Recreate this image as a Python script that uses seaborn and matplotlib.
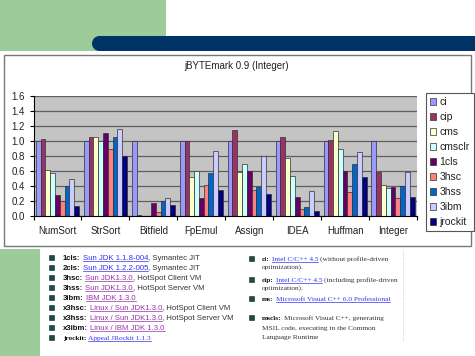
import matplotlib
matplotlib.use("Agg")
import matplotlib.pyplot as plt
from matplotlib.patches import Rectangle, Ellipse
from matplotlib.lines import Line2D
import seaborn as sns
import pandas as pd

# ---------------- data ----------------
categories = ["NumSort", "StrSort", "Bitfield", "FpEmul", "Assign", "IDEA", "Huffman", "Integer"]
series = ["ci", "cip", "cms", "cmsclr", "1cls", "3hsc", "3hss", "3ibm", "jrockit"]
ci      = [1.00, 1.00, 1.00, 1.00, 1.00, 1.00, 1.00, 1.00]
cip     = [1.03, 1.05, 0.01, 1.00, 1.15, 1.05, 1.02, 0.585]
cms     = [0.61, 1.05, 0.004, 0.52, 0.59, 0.78, 1.14, 0.42]
cmsclr  = [0.57, 1.00, 0.004, 0.60, 0.69, 0.53, 0.89, 0.38]
cls1    = [0.28, 1.11, 0.17, 0.24, 0.60, 0.25, 0.60, 0.39]
hsc3    = [0.195, 0.89, 0.06, 0.42, 0.35, 0.10, 0.32, 0.235]
hss3    = [0.40, 1.05, 0.20, 0.58, 0.39, 0.12, 0.70, 0.40]
ibm3    = [0.50, 1.16, 0.24, 0.87, 0.80, 0.33, 0.86, 0.59]
jrockit = [0.14, 0.80, 0.15, 0.35, 0.29, 0.07, 0.52, 0.26]
values = [ci, cip, cms, cmsclr, cls1, hsc3, hss3, ibm3, jrockit]
yticks = [0.0, 0.2, 0.4, 0.6, 0.8, 1.0, 1.2, 1.4, 1.6]
title = "jBYTEmark 0.9 (Integer)"

left_notes = [
    [("1cls:", "b"), ("Sun JDK 1.1.8-004", "lb"), (", Symantec JIT", "p")],
    [("2cls:", "b"), ("Sun JDK 1.2.2-005", "lb"), (", Symantec JIT", "p")],
    [("3hsc:", "b"), ("Sun JDK1.3.0", "lv"), (", HotSpot Client VM", "p")],
    [("3hss:", "b"), ("Sun JDK1.3.0", "lv"), (", HotSpot Server VM", "p")],
    [("3ibm:", "b"), ("IBM JDK 1.3.0", "lv")],
    [("x3hsc:", "b"), ("Linux / Sun JDK1.3.0", "lv"), (", HotSpot Client VM", "p")],
    [("x3hss:", "b"), ("Linux / Sun JDK1.3.0", "lv"), (", HotSpot Server VM", "p")],
    [("x3ibm:", "b"), ("Linux / IBM JDK 1.3.0", "lv")],
    [("jrockit:", "bs"), ("Appeal JRockit 1.1.3", "lbs")],
]
right_notes = [
    (258.3, True, [("ci:", "b"), ("Intel C/C++ 4.5", "lb"), (" (without profile-driven", "p")]),
    (266.5, False, [("optimization).", "p")]),
    (279.0, True, [("cip:", "b"), ("Intel C/C++ 4.5", "lb"), (" (including profile-driven", "p")]),
    (287.3, False, [("optimization).", "p")]),
    (298.3, True, [("ms:", "b"), ("Microsoft Visual C++ 6.0 Professional", "lb")]),
    (317.7, True, [("mscls:", "b"), (" Microsoft Visual C++, generating", "p")]),
    (327.3, False, [("MSIL code, executing in the Common", "p")]),
    (336.7, False, [("Language Runtime", "p")]),
]

colors = ["#9999FF", "#993366", "#FFFFCC", "#CCFFFF", "#660066",
          "#FF8080", "#0066CC", "#CCCCFF", "#000080"]

W, H = 475, 356
fig = plt.figure(figsize=(W / 100, H / 100), dpi=100)
fig.patch.set_facecolor("white")


def fx(x):
    return x / W


def fy(y):
    return 1 - y / H


# ---------------- slide decoration ----------------
green = "#9CCC9A"
fig.add_artist(Rectangle((0, fy(51)), fx(166), 51 / H, transform=fig.transFigure,
                         facecolor=green, edgecolor="none", zorder=0))
fig.add_artist(Rectangle((0, 0), fx(40), (H - 249) / H, transform=fig.transFigure,
                         facecolor=green, edgecolor="none", zorder=0))
navy = "#003366"
fig.add_artist(Rectangle((fx(99.5), fy(51)), 1 - fx(99.5), 15 / H, transform=fig.transFigure,
                         facecolor=navy, edgecolor="none", zorder=1))
fig.add_artist(Ellipse((fx(99.5), fy(43.5)), 15 / W, 15 / H, transform=fig.transFigure,
                       facecolor=navy, edgecolor="none", zorder=1))
# chart frame
fig.add_artist(Rectangle((fx(4), fy(246)), fx(467), (246 - 54.5) / H, transform=fig.transFigure,
                         facecolor="white", edgecolor="#777777", linewidth=1.0, zorder=1))

# ---------------- chart ----------------
rows = []
for s, vals in zip(series, values):
    for c, v in zip(categories, vals):
        rows.append({"benchmark": c, "compiler": s, "score": v})
df = pd.DataFrame(rows)

ax = fig.add_axes([fx(33.5), fy(216), fx(417 - 33.5), (216 - 96) / H])
ax.set_zorder(3)
sns.barplot(data=df, x="benchmark", y="score", hue="compiler", order=categories,
            hue_order=series, palette=colors, width=0.9, edgecolor="#303030",
            linewidth=0.5, saturation=1, ax=ax, errorbar=None)
ax.set_facecolor("#C4C4C4")
ax.set_ylim(0, 1.6)
ax.set_xlim(-0.5, 7.5)
ax.set_yticks(yticks)
ax.set_yticklabels([f"{t:.1f}" for t in yticks])
ax.yaxis.grid(True, color="#5f5f5f", linewidth=0.9)
ax.set_axisbelow(True)
ax.set_xlabel("")
ax.set_ylabel("")
for side in ["top", "right"]:
    ax.spines[side].set_visible(False)
for side in ["left", "bottom"]:
    ax.spines[side].set_color("black")
    ax.spines[side].set_linewidth(0.8)
ax.set_xticks([i - 0.5 for i in range(9)], minor=True)
ax.tick_params(axis="x", which="major", length=0, pad=7.5, labelsize=7, labelcolor="#222222")
ax.tick_params(axis="x", which="minor", length=3, direction="out", width=0.8)
ax.tick_params(axis="y", which="major", length=3, direction="out", width=0.8, pad=3,
               labelsize=7, labelcolor="#222222")
for lab in ax.get_xticklabels() + ax.get_yticklabels():
    lab.set_fontfamily("Liberation Sans")

handles, labels = ax.get_legend_handles_labels()
leg = ax.legend(handles, labels, loc="upper left", bbox_to_anchor=(fx(426), fy(93)),
                bbox_transform=fig.transFigure, borderaxespad=0, frameon=True,
                fancybox=False, framealpha=1, edgecolor="#555555",
                prop={"family": "Liberation Sans", "size": 7.5},
                handlelength=0.6, handleheight=0.6, handletextpad=0.3,
                labelspacing=0.48, borderpad=0.4)
leg.get_frame().set_linewidth(0.8)
for t in leg.get_texts():
    t.set_color("#222222")

fig.text(fx(237), fy(66), title, ha="center", va="center", fontsize=7,
         family="Liberation Sans", color="#222222", zorder=5)

# ---------------- notes below ----------------
renderer = fig.canvas.get_renderer()


def style_for(code, serif):
    is_serif = serif or code.endswith("s")
    fam = "Liberation Serif" if is_serif else "Liberation Sans"
    size = 5.3 if is_serif else 5.6
    d = {"family": fam, "fontsize": size, "color": "#333333", "fontweight": "normal"}
    c = code[:-1] if (code.endswith("s") and len(code) > 1) else code
    if c.startswith("b"):
        d["fontweight"] = "bold"
        d["color"] = "#111111"
    if c == "lb":
        d["color"] = "#3333EE"
    if c == "lv":
        d["color"] = "#9933AA"
    return d, c.startswith("l")


def space_width(d):
    t1 = fig.text(0, 0, "x x", **d)
    t2 = fig.text(0, 0, "xx", **d)
    w = t1.get_window_extent(renderer).width - t2.get_window_extent(renderer).width
    t1.remove()
    t2.remove()
    return max(w, 0.28 * d["fontsize"] * 100 / 72)


def draw_line(x, ycenter, segs, serif):
    baseline = ycenter + 2.6
    for i, (txt, code) in enumerate(segs):
        d, link = style_for(code, serif)
        sw = space_width(d)
        lead = len(txt) - len(txt.lstrip(" "))
        core = txt.strip(" ")
        if i > 0 and lead == 0 and not txt.startswith(","):
            lead = 1 if segs[i - 1][1].startswith("b") else 0
        x += lead * sw
        t = fig.text(fx(x), fy(baseline), core, ha="left", va="baseline", zorder=5, **d)
        bb = t.get_window_extent(renderer)
        if link:
            fig.add_artist(Line2D([fx(x), fx(x + bb.width)], [fy(baseline + 1.3)] * 2,
                                  transform=fig.transFigure, color=d["color"],
                                  linewidth=0.5, zorder=5))
        x += bb.width


def bullet(xc, yc):
    fig.add_artist(Rectangle((fx(xc - 2.5), fy(yc + 2.5)), 5 / W, 5 / H,
                             transform=fig.transFigure, facecolor="#1F4A4A",
                             edgecolor="#0d2a2a", linewidth=0.4, zorder=5))


for i, segs in enumerate(left_notes):
    yc = 257.3 + 10 * i
    bullet(51, yc)
    draw_line(63, yc, segs, serif=False)

for yc, has_bullet, segs in right_notes:
    if has_bullet:
        bullet(251, yc)
    draw_line(262, yc, segs, serif=True)

fig.add_artist(Line2D([fx(403), fx(403)], [fy(250), fy(341)], transform=fig.transFigure,
                      color="#bbbbbb", linewidth=0.6, linestyle=(0, (1, 2)), zorder=2))

fig.savefig("out.png", dpi=100, facecolor="white")
